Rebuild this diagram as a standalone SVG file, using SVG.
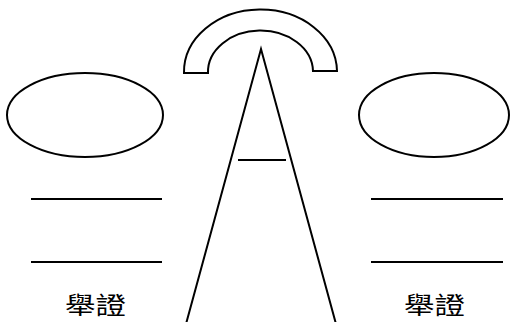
<svg xmlns="http://www.w3.org/2000/svg" width="510" height="322" viewBox="0 0 510 322">
<style>
.s{fill:none;stroke:#000;stroke-width:2}
.t{font-family:"Noto Sans CJK TC","Noto Sans CJK SC",sans-serif;font-size:24px;fill:#000}
</style>
<rect width="510" height="322" fill="#fff"/>
<g id="arch"><path class="s" d="M184,73 A76,62 0 0 1 337,71 L313,71 A52,41 0 0 0 208,73 Z"/></g>
<g id="tower">
<path class="s" d="M186,324 L261,49 L336,324"/>
<line class="s" x1="238" y1="160" x2="286" y2="160"/>
</g>
<g id="left">
<ellipse class="s" cx="85" cy="115" rx="78" ry="42"/>
<line class="s" x1="31" y1="199" x2="162" y2="199"/>
<line class="s" x1="31" y1="262" x2="162" y2="262"/>
<text class="t" x="65" y="314" textLength="61" lengthAdjust="spacingAndGlyphs">舉證</text>
</g>
<g id="right">
<ellipse class="s" cx="434" cy="115" rx="75" ry="42"/>
<line class="s" x1="371" y1="199" x2="503" y2="199"/>
<line class="s" x1="371" y1="262" x2="503" y2="262"/>
<text class="t" x="404" y="314" textLength="61" lengthAdjust="spacingAndGlyphs">舉證</text>
</g>
</svg>
